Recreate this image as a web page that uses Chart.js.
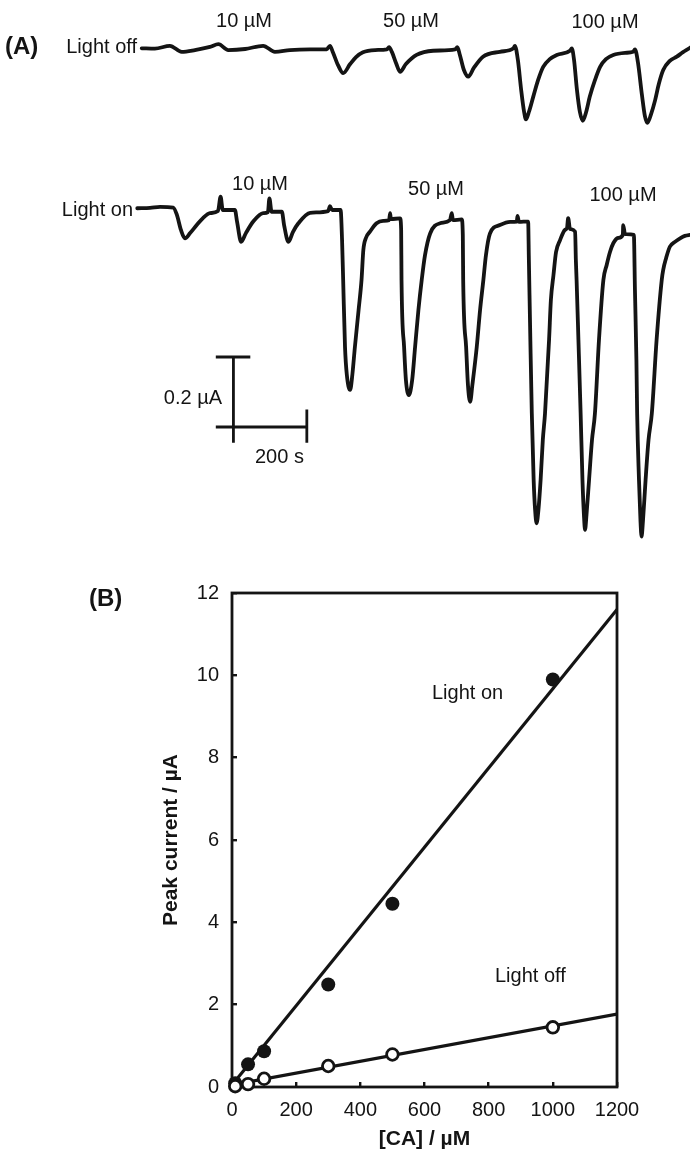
<!DOCTYPE html>
<html>
<head>
<meta charset="utf-8">
<script src="https://cdn.jsdelivr.net/npm/chart.js@4.4.1/dist/chart.umd.min.js"></script>
<style>
  html, body { margin: 0; padding: 0; background: #ffffff; }
  canvas { display: block; }
</style>
</head>
<body>
<canvas id="panelA" width="690" height="560"></canvas>
<canvas id="panelB" width="690" height="592"></canvas>
<script>
// ---------------- Panel A data (time in s, current in µA, relative to each baseline) ----------------
const offTime = [6,42,83,115,151,192,215,242,288,337,369,410,465,510,519,527,541,555,574,590,609,642,674,680,688,699,710,726,755,800,860,866,873,884,896,911,936,982,1019,1023,1031,1040,1048,1053,1061,1073,1086,1100,1118,1137,1173,1178,1184,1192,1200,1208,1217,1227,1241,1255,1271,1291,1323,1345,1350,1358,1369,1377,1384,1394,1405,1415,1427,1445,1464,1481,1498,1514];
const offCurrent = [0.002,0.001,0.009,-0.008,-0.003,0.006,0.014,-0.003,0,0.009,-0.008,-0.003,-0.001,-0.001,0.009,-0.009,-0.046,-0.069,-0.043,-0.023,-0.009,-0.003,-0.001,0.005,-0.009,-0.040,-0.065,-0.043,-0.017,-0.005,-0.001,0.005,-0.017,-0.060,-0.079,-0.054,-0.022,-0.008,0.002,0.009,-0.031,-0.117,-0.180,-0.201,-0.180,-0.136,-0.089,-0.051,-0.029,-0.017,-0.005,0.002,-0.031,-0.117,-0.180,-0.205,-0.180,-0.136,-0.089,-0.051,-0.029,-0.017,-0.011,-0.008,-0.001,-0.037,-0.131,-0.191,-0.211,-0.186,-0.146,-0.100,-0.060,-0.034,-0.022,-0.009,0.002,0.014];

const onTime = [-6,29,56,92,102,113,124,138,156,173,192,214,221,227,260,266,277,290,310,337,350,354,360,388,394,406,418,433,465,514,519,525,548,552,555,560,565,574,580,587,597,605,610,617,628,646,664,680,683,685,710,713,714,721,726,734,743,751,760,769,778,792,819,846,851,854,878,881,882,890,895,901,907,919,928,937,944,955,982,1010,1028,1030,1034,1059,1061,1065,1069,1074,1078,1082,1087,1093,1099,1105,1116,1121,1128,1135,1146,1159,1165,1168,1173,1187,1189,1191,1196,1202,1207,1211,1214,1218,1225,1233,1241,1252,1264,1273,1282,1291,1304,1317,1318,1323,1347,1350,1354,1356,1361,1365,1368,1372,1379,1387,1396,1409,1423,1427,1435,1445,1459,1473,1486,1500,1514];
const onCurrent = [0.005,0.006,0.009,0.007,-0.014,-0.057,-0.081,-0.066,-0.043,-0.023,-0.009,-0.003,0.038,0,0,-0.034,-0.091,-0.066,-0.033,-0.009,-0.006,0.033,-0.005,-0.005,-0.043,-0.091,-0.063,-0.038,-0.008,-0.003,0.011,0,0,-0.086,-0.2,-0.391,-0.471,-0.514,-0.471,-0.391,-0.286,-0.2,-0.114,-0.08,-0.062,-0.038,-0.031,-0.029,-0.009,-0.026,-0.024,-0.057,-0.2,-0.391,-0.486,-0.529,-0.486,-0.391,-0.286,-0.2,-0.129,-0.067,-0.038,-0.029,-0.009,-0.029,-0.027,-0.071,-0.2,-0.391,-0.5,-0.548,-0.5,-0.391,-0.286,-0.2,-0.129,-0.067,-0.043,-0.034,-0.033,-0.017,-0.034,-0.033,-0.143,-0.371,-0.581,-0.771,-0.857,-0.895,-0.857,-0.771,-0.657,-0.581,-0.371,-0.257,-0.186,-0.12,-0.086,-0.057,-0.051,-0.023,-0.054,-0.062,-0.143,-0.2,-0.371,-0.581,-0.771,-0.871,-0.914,-0.871,-0.771,-0.657,-0.581,-0.371,-0.2,-0.157,-0.12,-0.095,-0.08,-0.071,-0.043,-0.069,-0.071,-0.229,-0.429,-0.581,-0.771,-0.886,-0.933,-0.886,-0.771,-0.657,-0.581,-0.371,-0.2,-0.171,-0.137,-0.105,-0.091,-0.081,-0.074,-0.071,-0.069];

// scale bar (200 s, 0.2 µA), in the light-on trace's coordinates
const barVertTime = [256, 256];
const barVertCurrent = [-0.42, -0.665];
const barHorTime = [208, 456];
const barHorCurrent = [-0.62, -0.62];
const barCapTime = [208, 302];
const barCapCurrent = [-0.42, -0.42];
const barEndTime = [456, 456];
const barEndCurrent = [-0.57, -0.665];

// concentration labels
const labelsOff = ['10 µM', '50 µM', '100 µM'];
const labelsOn = ['10 µM', '50 µM', '100 µM'];

// ---------------- Panel B data ----------------
const concOn = [10, 50, 100, 300, 500, 1000];
const peakOn = [0.09, 0.55, 0.87, 2.49, 4.45, 9.9];
const concOff = [10, 50, 100, 300, 500, 1000];
const peakOff = [0.02, 0.07, 0.2, 0.51, 0.79, 1.45];
const fitConc = [0, 1200];
const fitOn = [0.05, 11.6];
const fitOff = [0.05, 1.77];
const xTicks = [0, 200, 400, 600, 800, 1000, 1200];
const yTicks = [0, 2, 4, 6, 8, 10, 12];

// ---------------------------------------------
const FONT = '"Liberation Sans", Arial, Helvetica, sans-serif';
const INK = '#141414';
Chart.defaults.font.family = FONT;
Chart.defaults.color = INK;

const pts = (xs, ys) => xs.map((x, i) => ({x: x, y: ys[i]}));

function traceDs(xs, ys, axis) {
  return {
    data: pts(xs, ys), yAxisID: axis, showLine: true,
    borderColor: INK, borderWidth: 3.8, pointRadius: 0,
    cubicInterpolationMode: 'monotone', borderCapStyle: 'round', borderJoinStyle: 'round'
  };
}
function barDs(xs, ys) {
  return {
    data: pts(xs, ys), yAxisID: 'yOn', showLine: true,
    borderColor: INK, borderWidth: 2.8, pointRadius: 0, tension: 0
  };
}

const textA = {
  id: 'textA',
  afterDraw(chart) {
    const ctx = chart.ctx;
    ctx.save();
    ctx.fillStyle = INK;
    ctx.textBaseline = 'middle';
    ctx.font = 'bold 24px ' + FONT;
    ctx.textAlign = 'left';
    ctx.fillText('(A)', 5, 47);
    ctx.font = '20px ' + FONT;
    ctx.textAlign = 'right';
    ctx.fillText('Light off', 137, 47);
    ctx.fillText('Light on', 133, 210);
    ctx.fillText('0.2 µA', 222, 398);
    ctx.textAlign = 'left';
    ctx.fillText('200 s', 255, 457);
    ctx.textAlign = 'center';
    ctx.fillText(labelsOff[0], 244, 21);
    ctx.fillText(labelsOff[1], 411, 21);
    ctx.fillText(labelsOff[2], 605, 22);
    ctx.fillText(labelsOn[0], 260, 184);
    ctx.fillText(labelsOn[1], 436, 189);
    ctx.fillText(labelsOn[2], 623, 195);
    ctx.restore();
  }
};

new Chart(document.getElementById('panelA'), {
  type: 'scatter',
  data: {
    datasets: [
      traceDs(offTime, offCurrent, 'yOff'),
      traceDs(onTime, onCurrent, 'yOn'),
      barDs(barVertTime, barVertCurrent),
      barDs(barHorTime, barHorCurrent),
      barDs(barCapTime, barCapCurrent),
      barDs(barEndTime, barEndCurrent)
    ]
  },
  options: {
    responsive: false, animation: false, devicePixelRatio: 1,
    layout: {padding: 0},
    plugins: {legend: {display: false}, tooltip: {enabled: false}},
    scales: {
      x: {type: 'linear', min: -380, max: 1500, display: false},
      yOff: {type: 'linear', min: -1.46, max: 0.14, display: false},
      yOn: {type: 'linear', min: -1.0, max: 0.6, display: false}
    }
  },
  plugins: [textA]
});

// ---------------- Panel B ----------------
const frameB = {
  id: 'frameB',
  beforeDatasetsDraw(chart) {
    const {ctx, chartArea: a} = chart;
    ctx.save();
    ctx.strokeStyle = INK;
    ctx.lineWidth = 2.8;
    ctx.strokeRect(a.left, a.top, a.right - a.left, a.bottom - a.top);
    ctx.restore();
  }
};
const textB = {
  id: 'textB',
  afterDraw(chart) {
    const ctx = chart.ctx;
    ctx.save();
    ctx.fillStyle = INK;
    ctx.textBaseline = 'middle';
    ctx.textAlign = 'left';
    ctx.font = 'bold 24px ' + FONT;
    ctx.fillText('(B)', 89, 39);
    ctx.font = '20px ' + FONT;
    ctx.fillText('Light on', 432, 133);
    ctx.fillText('Light off', 495, 416);
    ctx.restore();
  }
};

new Chart(document.getElementById('panelB'), {
  type: 'scatter',
  data: {
    datasets: [
      {data: pts(concOff, peakOff), pointRadius: 5.8, pointBorderWidth: 2.8,
       pointBackgroundColor: '#ffffff', pointBorderColor: INK, clip: false},
      {data: pts(concOn, peakOn), pointRadius: 7, pointBorderWidth: 0,
       pointBackgroundColor: INK, pointBorderColor: INK, clip: false},
      {data: pts(fitConc, fitOn), showLine: true, borderColor: INK, borderWidth: 3.2, pointRadius: 0},
      {data: pts(fitConc, fitOff), showLine: true, borderColor: INK, borderWidth: 3.2, pointRadius: 0}
    ]
  },
  options: {
    responsive: false, animation: false, devicePixelRatio: 1,
    layout: {padding: {left: 0, right: 73, top: 33, bottom: 0}},
    plugins: {legend: {display: false}, tooltip: {enabled: false}},
    scales: {
      x: {
        type: 'linear', min: 0, max: 1200,
        afterFit(s) { s.height = 65; },
        afterBuildTicks(s) { s.ticks = xTicks.map(v => ({value: v})); },
        ticks: {font: {size: 20}, color: INK, padding: 16, maxRotation: 0, autoSkip: false,
                callback: v => String(v)},
        grid: {display: true, drawOnChartArea: false, drawTicks: true, tickLength: -5, color: INK, lineWidth: 2.4},
        border: {display: false},
        title: {display: true, text: '[CA] / µM', font: {size: 21, weight: 'bold'}, color: INK, padding: {top: 0, bottom: 0}}
      },
      y: {
        type: 'linear', min: 0, max: 12,
        afterFit(s) { s.width = 232; },
        afterBuildTicks(s) { s.ticks = yTicks.map(v => ({value: v})); },
        ticks: {font: {size: 20}, color: INK, padding: 18, autoSkip: false,
                callback: v => String(v)},
        grid: {display: true, drawOnChartArea: false, drawTicks: true, tickLength: -5, color: INK, lineWidth: 2.4},
        border: {display: false},
        title: {display: true, text: 'Peak current / µA', font: {size: 21, weight: 'bold'}, color: INK, padding: {top: 159, bottom: 0}}
      }
    }
  },
  plugins: [frameB, textB]
});
</script>
</body>
</html>
